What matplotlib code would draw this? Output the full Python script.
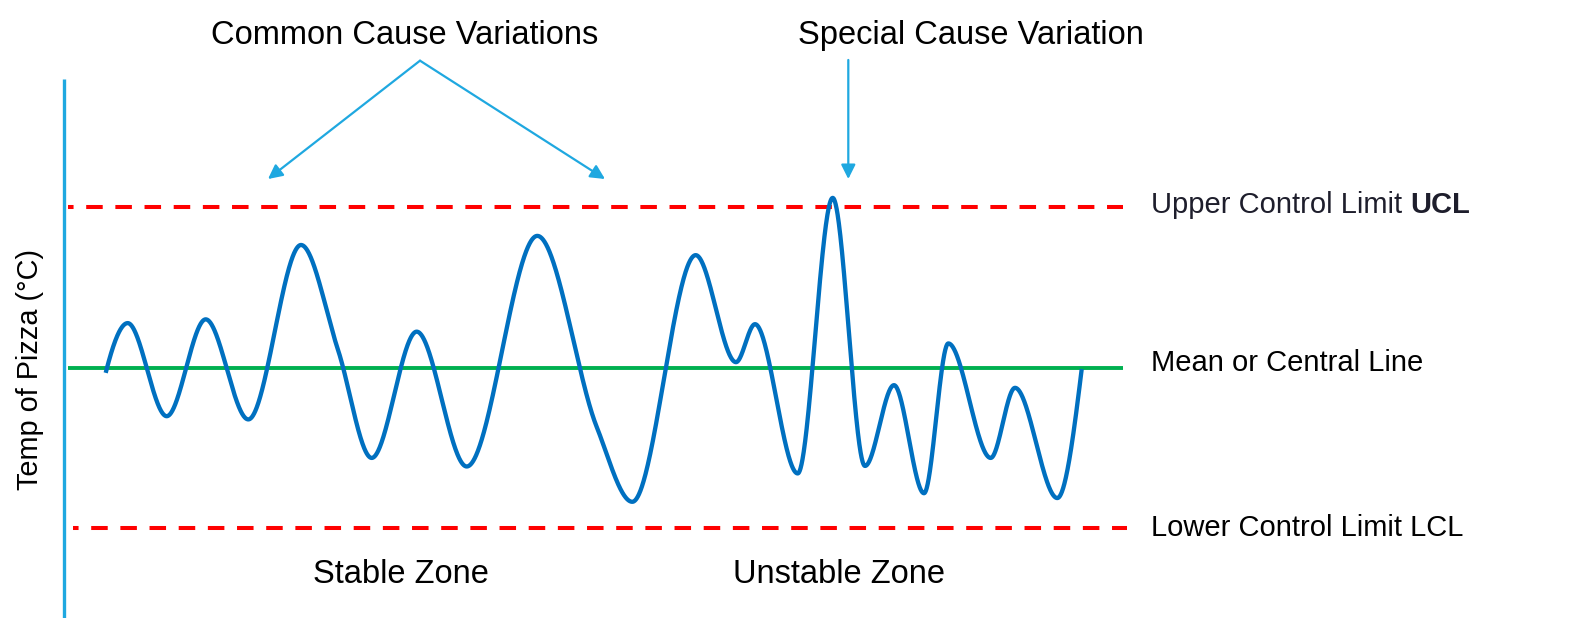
import numpy as np
import matplotlib
matplotlib.use("Agg")
import matplotlib.pyplot as plt

plt.rcParams['font.family'] = ['Liberation Sans', 'DejaVu Sans']
plt.rcParams['lines.scale_dashes'] = False

# ---------------- data (time index, temperature deviation in sigma units) -------------
time_pts = [4.17, 6.37, 10.27, 14.17, 18.43, 23.70, 27.40, 30.77, 35.27, 40.27,
            47.33, 53.27, 56.83, 63.17, 67.20, 69.10, 73.37, 76.87, 80.10, 83.00,
            86.00, 88.43, 92.67, 95.10, 99.33, 101.77]
temp_pts = [-0.10, 0.83, -0.91, 0.90, -0.97, 2.29, 0.33, -1.69, 0.67, -1.85,
            2.46, -1.11, -2.51, 2.10, 0.10, 0.81, -1.98, 3.17, -1.84, -0.33,
            -2.35, 0.45, -1.69, -0.38, -2.44, -0.03]

UCL = 3.0
CL = 0.0
LCL = -3.0
line_start = 0.4
line_end = 105.87

titles = ["Common Cause Variations", "Special Cause Variation"]
zone_labels = ["Stable Zone", "Unstable Zone"]
limit_labels = ["Upper Control Limit ", "UCL", "Mean or Central Line", "Lower Control Limit LCL"]
ylabel = "Temp of Pizza (\u00b0C)"


def pchip(x, y, xn):
    x = np.asarray(x, float)
    y = np.asarray(y, float)
    n = len(x)
    h = np.diff(x)
    dl = np.diff(y) / h
    d = np.zeros(n)
    for k in range(1, n - 1):
        if dl[k - 1] * dl[k] > 0:
            w1 = 2 * h[k] + h[k - 1]
            w2 = h[k] + 2 * h[k - 1]
            d[k] = (w1 + w2) / (w1 / dl[k - 1] + w2 / dl[k])

    def endslope(h0, h1, d0, d1):
        s = ((2 * h0 + h1) * d0 - h0 * d1) / (h0 + h1)
        if np.sign(s) != np.sign(d0):
            s = 0.0
        elif np.sign(d0) != np.sign(d1) and abs(s) > abs(3 * d0):
            s = 3 * d0
        return s

    d[0] = endslope(h[0], h[1], dl[0], dl[1])
    d[-1] = endslope(h[-1], h[-2], dl[-1], dl[-2])
    idx = np.clip(np.searchsorted(x, xn) - 1, 0, n - 2)
    hh = h[idx]
    s = (xn - x[idx]) / hh
    h00 = 2 * s**3 - 3 * s**2 + 1
    h10 = s**3 - 2 * s**2 + s
    h01 = -2 * s**3 + 3 * s**2
    h11 = s**3 - s**2
    return h00 * y[idx] + h10 * hh * d[idx] + h01 * y[idx + 1] + h11 * hh * d[idx + 1]


fig = plt.figure(figsize=(15.83, 6.18), dpi=100)
ax = fig.add_axes([0, 0, 1, 1])
ax.set_xlim(-6.4, 151.9)
ax.set_ylim(-4.682, 6.869)
ax.axis('off')

blue = '#0070C0'
green = '#00B050'
red = '#FF0000'
sky = '#1FA8E0'

# vertical axis line
ax.plot([0, 0], [5.40, -4.70], color=sky, lw=2.4, solid_capstyle='butt')

# control lines
ax.plot([line_start, line_end], [UCL, UCL], color=red, lw=2.9,
        linestyle=(7.9, (11.9, 9.1)), dash_capstyle='butt')
ax.plot([line_start + 0.47, line_end + 0.4], [LCL, LCL], color=red, lw=2.9,
        linestyle=(7.9, (11.9, 9.1)), dash_capstyle='butt')
ax.plot([line_start, line_end], [CL, CL], color=green, lw=2.8, solid_capstyle='butt')

# process line
tt = np.linspace(time_pts[0], time_pts[-1], 4000)
ax.plot(tt, pchip(time_pts, temp_pts, tt), color=blue, lw=3.1,
        solid_capstyle='butt', solid_joinstyle='round')

# titles and arrows
ax.text(34.1, 6.041, titles[0], fontsize=23.5, ha='center', va='baseline', color='black')
ax.text(90.7, 6.047, titles[1], fontsize=23.5, ha='center', va='baseline', color='black')
aprops = dict(arrowstyle='-|>,head_length=0.86,head_width=0.43', color=sky, lw=1.6,
              mutation_scale=10, shrinkA=0, shrinkB=0)
ax.annotate('', xy=(20.4, 3.523), xytext=(35.6, 5.735), arrowprops=aprops)
ax.annotate('', xy=(54.1, 3.523), xytext=(35.6, 5.735), arrowprops=aprops)
ax.annotate('', xy=(78.43, 3.523), xytext=(78.43, 5.748), arrowprops=aprops)

# limit labels
t1 = ax.text(108.7, 2.882, limit_labels[0], fontsize=21, ha='left', va='baseline', color='#1e1e2c')
ax.annotate(limit_labels[1], xy=(1, 0), xycoords=t1, fontsize=21, fontweight='bold',
            ha='left', va='bottom', color='#1e1e2c')
ax.text(108.7, -0.060, limit_labels[2], fontsize=21, ha='left', va='baseline', color='black')
ax.text(108.7, -3.144, limit_labels[3], fontsize=21, ha='left', va='baseline', color='black')

# zone labels
ax.text(33.65, -4.034, zone_labels[0], fontsize=23.5, ha='center', va='baseline', color='black')
ax.text(77.5, -4.034, zone_labels[1], fontsize=23.5, ha='center', va='baseline', color='black')

# y label
ax.text(-3.43, -0.028, ylabel, fontsize=20.8, rotation=90, ha='center', va='center', color='black')

fig.savefig('out.png', dpi=100)
